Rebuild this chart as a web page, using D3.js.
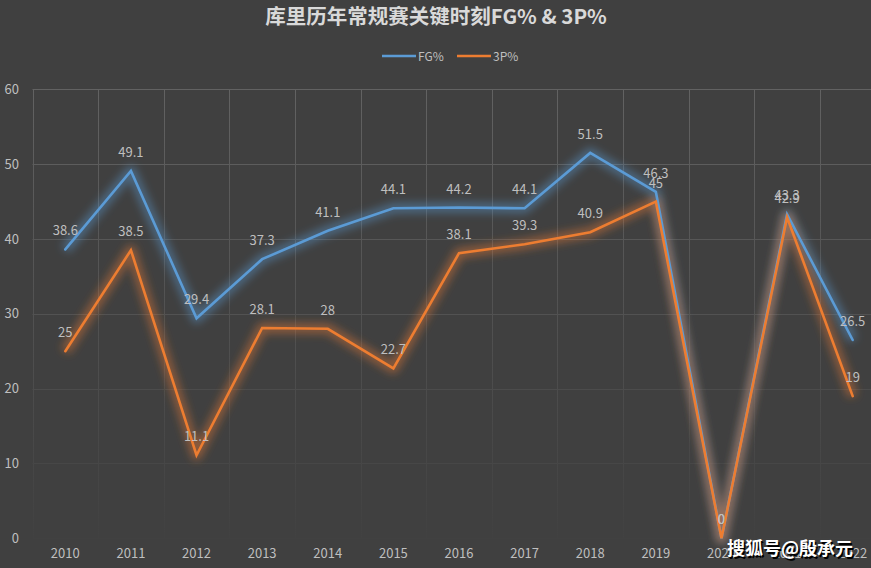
<!DOCTYPE html>
<html><head><meta charset="utf-8">
<script src="https://cdn.jsdelivr.net/npm/d3@7"></script>
<style>
html,body{margin:0;padding:0;background:#404040;}
svg{display:block;}
text{font-family:"Noto Sans CJK SC","Open Sans",sans-serif;}
</style></head>
<body>
<script>
const years = ["2010","2011","2012","2013","2014","2015","2016","2017","2018","2019","2020","2021","2022"];
const fgValues = [38.6, 49.1, 29.4, 37.3, 41.1, 44.1, 44.2, 44.1, 51.5, 46.3, 0, 43.3, 26.5];
const threeValues = [25, 38.5, 11.1, 28.1, 28, 22.7, 38.1, 39.3, 40.9, 45, 0, 42.9, 19];
const yTicks = [0, 10, 20, 30, 40, 50, 60];
const seriesNames = ["FG%", "3P%"];
const titleText = "库里历年常规赛关键时刻FG% & 3P%";
const watermark = "搜狐号@殷承元";

const W = 871, H = 568;
const colors = ["#5b9bd5", "#ed7d31"];
const svg = d3.select("body").append("svg").attr("width", W).attr("height", H);
svg.append("rect").attr("width", W).attr("height", H).attr("fill", "#404040");

const x = d3.scaleBand().domain(years).range([32.5, 885.5]).padding(0);
const y = d3.scaleLinear().domain([0, 60]).range([538.3, 89.3]);

const defs = svg.append("defs");
const f = defs.append("filter").attr("id","glow").attr("x","-20%").attr("y","-20%").attr("width","140%").attr("height","140%");
f.append("feGaussianBlur").attr("stdDeviation", 4.5);
const gradTop = "#626262", gradBot = "#414141";
const lg0 = defs.append("linearGradient").attr("id","vgrid").attr("gradientUnits","userSpaceOnUse")
  .attr("x1",0).attr("x2",0).attr("y1", y(60)).attr("y2", y(0));
lg0.append("stop").attr("offset","0%").attr("stop-color", gradTop);
lg0.append("stop").attr("offset","100%").attr("stop-color", gradBot);
const gridColor = d3.scaleLinear().domain([60, 0]).range([gradTop, gradBot]).interpolate(d3.interpolateRgb);

// gridlines
const grid = svg.append("g");
grid.selectAll("line.h").data(yTicks).join("line")
  .attr("x1", 32.5).attr("x2", 885.5)
  .attr("y1", d => Math.round(y(d)) + 0.5).attr("y2", d => Math.round(y(d)) + 0.5)
  .attr("stroke", d => gridColor(d)).attr("stroke-width", 1);
const bounds = years.map(d => x(d)).concat([x(years[years.length-1]) + x.bandwidth()]);
grid.selectAll("line.v").data(bounds).join("line")
  .attr("x1", d => Math.round(d) + 0.5).attr("x2", d => Math.round(d) + 0.5 + 0.001)
  .attr("y1", y(60)).attr("y2", y(0))
  .attr("stroke", "url(#vgrid)").attr("stroke-width", 1);

// axes
const yAxis = d3.axisLeft(y).tickValues(yTicks).tickSize(0).tickPadding(0);
const gy = svg.append("g").attr("transform", "translate(19,0)").call(yAxis);
gy.select(".domain").remove();
gy.selectAll("text").attr("fill", "#bfbfbf").attr("font-size", 13).attr("font-family", "'Open Sans',sans-serif");

const xAxis = d3.axisBottom(x).tickSize(0).tickPadding(0);
const gx = svg.append("g").attr("transform", "translate(0,549)").call(xAxis);
gx.select(".domain").remove();
gx.selectAll("text").attr("fill", "#bfbfbf").attr("font-size", 13).attr("font-family", "'Open Sans',sans-serif");

const cx = d => x(d) + x.bandwidth() / 2;
const line = d3.line().x(d => cx(d.year)).y(d => y(d.v));
const series = [fgValues, threeValues].map(vals => years.map((yr, i) => ({year: yr, v: vals[i]})));

// glow
series.forEach((s, i) => {
  svg.append("path").datum(s).attr("d", line).attr("fill", "none")
    .attr("stroke", colors[i]).attr("stroke-width", 10).attr("stroke-opacity", 0.45)
    .attr("stroke-linejoin", "round").attr("filter", "url(#glow)");
});
series.forEach((s, i) => {
  svg.append("path").datum(s).attr("d", line).attr("fill", "none")
    .attr("stroke", colors[i]).attr("stroke-width", 2.6)
    .attr("stroke-linejoin", "miter").attr("stroke-linecap", "round");
});

// labels
series.forEach((s, i) => {
  svg.append("g").selectAll("text").data(s).join("text")
    .attr("x", d => cx(d.year)).attr("y", d => y(d.v) - 14)
    .attr("text-anchor", "middle").attr("fill", "#bfbfbf").attr("font-size", 13)
    .attr("font-family", "'Open Sans',sans-serif")
    .text(d => d.v);
});

// title
svg.append("text").attr("x", 436).attr("y", 24).attr("text-anchor", "middle")
  .attr("fill", "#d9d9d9").attr("font-size", 20.5).attr("font-weight", "bold")
  .text(titleText);

// legend
const lg = svg.append("g");
const legendX = [382, 457];
seriesNames.forEach((n, i) => {
  lg.append("line").attr("x1", legendX[i]).attr("x2", legendX[i] + 34).attr("y1", 56).attr("y2", 56)
    .attr("stroke", colors[i]).attr("stroke-width", 2.6);
  lg.append("text").attr("x", legendX[i] + 36).attr("y", 60.5).attr("fill", "#bfbfbf")
    .attr("font-size", 12).attr("font-family", "'Open Sans',sans-serif").text(n);
});

// watermark
svg.append("text").attr("x", 790).attr("y", 555).attr("text-anchor", "middle")
  .attr("fill", "#000").attr("font-size", 18).attr("font-weight", "bold")
  .attr("transform", "translate(1.5,1.5)").text(watermark);
svg.append("text").attr("x", 790).attr("y", 555).attr("text-anchor", "middle")
  .attr("fill", "#ffffff").attr("font-size", 18).attr("font-weight", "bold")
  .text(watermark);
</script>
</body></html>
